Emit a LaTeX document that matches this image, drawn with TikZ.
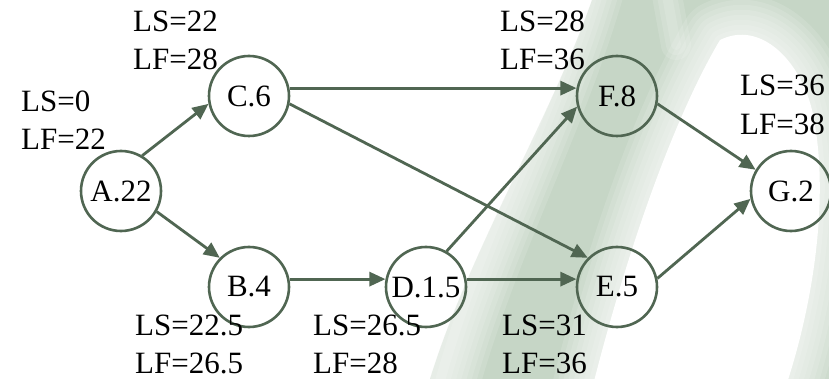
\documentclass[tikz,border=0pt]{standalone}
\usepackage{fontspec}
\setmainfont{Liberation Serif}
\usetikzlibrary{arrows.meta}
\definecolor{edgecol}{RGB}{80,102,82}
\definecolor{bggreen}{RGB}{198,214,198}
\begin{document}
\begin{tikzpicture}[x=1pt,y=-1pt,
  task/.style={circle,draw=edgecol,line width=2.6pt,minimum size=80pt,inner sep=0pt,font=\fontsize{31}{38}\selectfont},
  lbl/.style={anchor=base west,inner sep=0pt,font=\fontsize{31}{38}\selectfont},
  conn/.style={draw=edgecol,line width=2.8pt,-{Triangle[length=16pt,width=14pt]}},
  soft/.style={white,opacity=0.13,line join=round,line cap=round}]
\useasboundingbox (0,0) rectangle (829,379);
% background
\fill[white] (0,0) rectangle (829,379);
\fill[bggreen] (592,0) .. controls (550,120) and (470,250) .. (430,379) -- (829,379) -- (829,0) -- cycle;
\foreach \w in {80,70,60,50,40,30,20,10}{
  \draw[soft,line width=\w pt] (592,-40) .. controls (550,120) and (470,250) .. (430,420);
  \draw[soft,line width=\w pt] (720,40) .. controls (690,90) and (640,200) .. (592,389)
     -- (785,389) .. controls (815,300) and (830,190) .. (812,110) .. controls (800,60) and (760,20) .. (720,40) -- cycle;
}
\foreach \w in {30,20,10}{
  \draw[soft,line width=\w pt] (666,-10) -- (676,45);
}
\fill[white] (720,40) .. controls (690,90) and (640,200) .. (592,389)
     -- (785,389) .. controls (815,300) and (830,190) .. (812,110) .. controls (800,60) and (760,20) .. (720,40) -- cycle;
% nodes
\node[task] (A) at (121,191) {A.22};
\node[task] (C) at (249,96) {C.6};
\node[task] (B) at (249,287) {B.4};
\node[task] (D) at (426,287) {D.1.5};
\node[task] (E) at (617,287) {E.5};
\node[task] (F) at (617,96) {F.8};
\node[task] (G) at (791,191) {G.2};
% labels
\node[lbl] (lsA) at (21,112) {LS=0};
\node[lbl] (lfA) at (21,150) {LF=22};
\node[lbl] (lsC) at (133,32) {LS=22};
\node[lbl] (lfC) at (133,70) {LF=28};
\node[lbl] (lsF) at (500,32) {LS=28};
\node[lbl] (lfF) at (500,70) {LF=36};
\node[lbl] (lsG) at (740,96) {LS=36};
\node[lbl] (lfG) at (740,135) {LF=38};
\node[lbl] (lsB) at (135,335) {LS=22.5};
\node[lbl] (lfB) at (135,373) {LF=26.5};
\node[lbl] (lsD) at (313,335) {LS=26.5};
\node[lbl] (lfD) at (313,373) {LF=28};
\node[lbl] (lsE) at (502,335) {LS=31};
\node[lbl] (lfE) at (502,373) {LF=36};
% connectors
\draw[conn] (A.59) -- (C.191);
\draw[conn] (A.-30) -- (B.135);
\draw[conn] (B.11) -- (D.169);
\draw[conn] (C.11) -- (F.169);
\draw[conn] (C.-11) -- (E.135);
\draw[conn] (D.60) -- (F.195);
\draw[conn] (D.11) -- (E.169);
\draw[conn] (F.-11) -- (G.149);
\draw[conn] (E.12) -- (G.191);
\end{tikzpicture}
\end{document}
